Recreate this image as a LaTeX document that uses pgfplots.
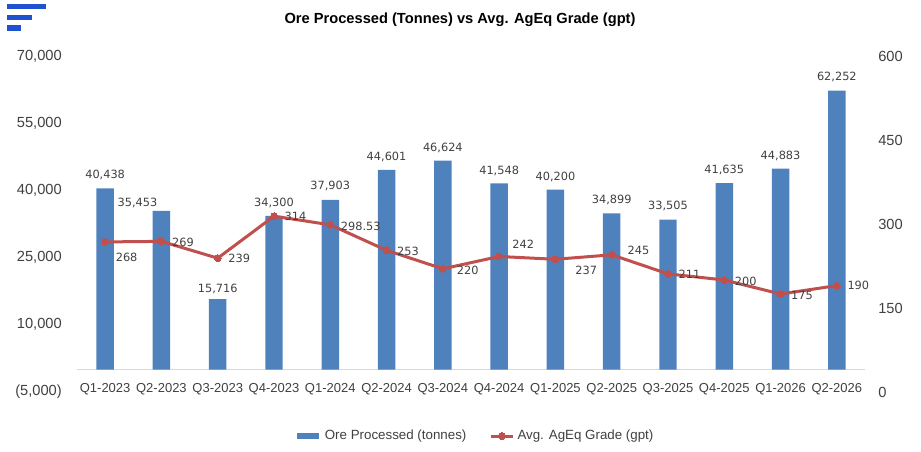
\documentclass[border=0pt]{standalone}
\usepackage{fontspec}
\setmainfont{Liberation Sans}
\newfontfamily\dejavu{DejaVu Sans}
\usepackage{pgfplots}
\usepackage{pgfplotstable}
\pgfplotsset{compat=1.18}
\definecolor{barblue}{RGB}{79,129,189}
\definecolor{linered}{RGB}{192,80,77}
\definecolor{txt}{RGB}{64,64,64}
\definecolor{logo}{RGB}{31,82,209}
\definecolor{axgray}{RGB}{217,217,217}

\pgfplotstableread{
x ore lbl dx dy
0 40438 40,438 0 9.75
1 35453 35,453 -18 6
2 15716 15,716 0 7.5
3 34300 34,300 0 9.75
4 37903 37,903 0 10.5
5 44601 44,601 0 9.75
6 46624 46,624 0 9.75
7 41548 41,548 0 9.75
8 40200 40,200 0 9.75
9 34899 34,899 0 9.75
10 33505 33,505 0 10.5
11 41635 41,635 0 9.75
12 44883 44,883 0 9.75
13 62252 62,252 0 10.5
}\oretable

\pgfplotstableread{
x g lbl dx dy
0 268 268 8 -11.25
1 269 269 8 -0.75
2 239 239 8 0
3 314 314 8 0
4 298.53 298.53 8 -1.5
5 253 253 8 -0.75
6 220 220 10.5 -1.5
7 242 242 10 9
8 237 237 15 -8.25
9 245 245 12 3.5
10 211 211 8 0
11 200 200 8 -0.75
12 175 175 8 -0.75
13 190 190 8 0
}\gradetable

\begin{document}
\begin{tikzpicture}
\begin{axis}[name=ax, scale only axis, width=591pt, height=252pt,
  clip=false, scaled y ticks=false,
  xmin=-0.5, xmax=13.5, ymin=-5000, ymax=70000,
  ybar, bar width=13.1pt,
  axis line style={draw=none}, tick style={draw=none},
  xtick={0,...,13},
  xticklabels={Q1-2023,Q2-2023,Q3-2023,Q4-2023,Q1-2024,Q2-2024,Q3-2024,Q4-2024,Q1-2025,Q2-2025,Q3-2025,Q4-2025,Q1-2026,Q2-2026},
  xticklabel style={anchor=center, yshift=6.75pt, font=\fontsize{9.75}{12}\selectfont, text=txt},
  ytick={-5000,10000,25000,40000,55000,70000},
  yticklabels={{(5,000)},{10,000},{25,000},{40,000},{55,000},{70,000}},
  yticklabel style={anchor=east, inner sep=0pt, xshift=-11.25pt, font=\fontsize{11}{13}\selectfont, text=txt},
]
\draw[axgray, line width=0.9pt] (axis cs:-0.5,0) -- (axis cs:13.5,0);
\addplot[fill=barblue, draw=none,
  nodes near coords,
  point meta=explicit symbolic,
  visualization depends on={\thisrow{dx} \as \dx},
  visualization depends on={\thisrow{dy} \as \dy},
  nodes near coords style={font=\dejavu\fontsize{8.5}{10}\selectfont, text=txt, anchor=center, xshift=\dx pt, yshift=\dy pt}]
  table[x=x, y=ore, meta=lbl] {\oretable};
\end{axis}

\begin{axis}[scale only axis, width=591pt, height=252pt,
  clip=false,
  xmin=-0.5, xmax=13.5, ymin=0, ymax=600,
  axis y line*=right, axis x line=none,
  y axis line style={draw=none}, tick style={draw=none},
  ytick={0,150,300,450,600},
  yticklabels={0,150,300,450,600},
  yticklabel style={anchor=west, inner sep=0pt, xshift=9.75pt, font=\fontsize{11}{13}\selectfont, text=txt},
  legend style={at={(0.505,-0.131)}, anchor=center, draw=none, legend columns=2,
    font=\fontsize{10}{12}\selectfont, text=txt, inner sep=0pt,
    /tikz/every even column/.append style={column sep=15pt}},
  legend cell align=left,
]
\addlegendimage{barblue, line width=4.2pt}
\addlegendentry{Ore Processed (tonnes)}
\addplot[linered, line width=2.25pt, mark=*, mark size=2.6pt,
  mark options={fill=linered, draw=linered, line width=0pt},
  nodes near coords,
  point meta=explicit symbolic,
  visualization depends on={\thisrow{dx} \as \dx},
  visualization depends on={\thisrow{dy} \as \dy},
  nodes near coords style={font=\dejavu\fontsize{8.5}{10}\selectfont, text=txt, anchor=west, inner sep=0pt, xshift=\dx pt, yshift=\dy pt}]
  table[x=x, y=g, meta=lbl] {\gradetable};
\addlegendentry{Avg. AgEq Grade (gpt)}
\end{axis}

\node[font=\bfseries\fontsize{11}{13}\selectfont, text=black] at ([shift={(287.25pt,279pt)}]ax.south west) {Ore Processed (Tonnes) vs Avg. AgEq Grade (gpt)};

\fill[logo] ([shift={(-52.5pt,291pt)}]ax.south west) rectangle ([shift={(-23.25pt,287.25pt)}]ax.south west);
\fill[logo] ([shift={(-52.5pt,282.75pt)}]ax.south west) rectangle ([shift={(-33.75pt,279pt)}]ax.south west);
\fill[logo] ([shift={(-52.5pt,275.25pt)}]ax.south west) rectangle ([shift={(-42pt,270.75pt)}]ax.south west);

\pgfresetboundingbox
\path[use as bounding box] ([shift={(-57.75pt,-44.25pt)}]ax.south west) rectangle ([shift={(633pt,294pt)}]ax.south west);
\end{tikzpicture}
\end{document}
